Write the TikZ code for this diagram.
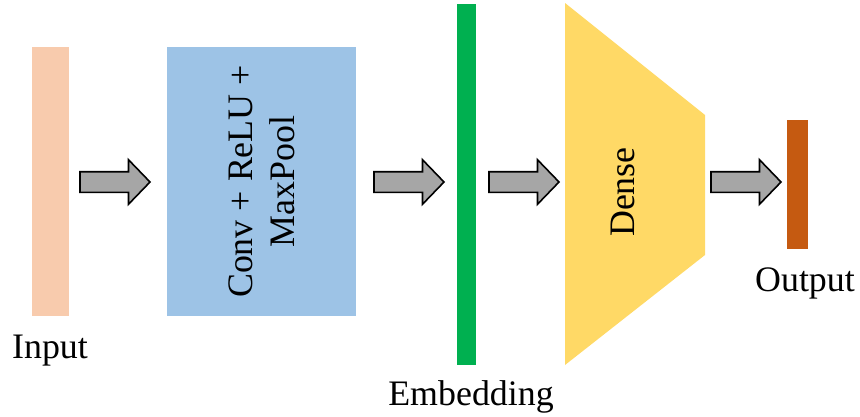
\documentclass[tikz,border=0pt]{standalone}
\usepackage{fontspec}
\setmainfont{Liberation Serif}
\usetikzlibrary{shapes.arrows}
\definecolor{inputc}{HTML}{F8CBAD}
\definecolor{convc}{HTML}{9DC3E6}
\definecolor{embc}{HTML}{00B050}
\definecolor{densec}{HTML}{FFD966}
\definecolor{outc}{HTML}{C55A11}
\definecolor{arrowgray}{HTML}{A6A6A6}
\begin{document}
\begin{tikzpicture}[x=1bp,y=-1bp,
  bar/.style={rectangle, draw=none, inner sep=0pt, outer sep=0pt},
  blockarrow/.style={single arrow, draw=black, fill=arrowgray, line width=1.6bp,
    minimum height=70bp, inner xsep=0pt, inner ysep=9.5bp, outer sep=0pt,
    single arrow head extend=12bp, single arrow tip angle=92, anchor=tail},
  lbl/.style={font=\fontsize{36}{42}\selectfont, inner sep=0pt, anchor=base},
  vtext/.style={font=\fontsize{36}{42}\selectfont, rotate=90, align=center, inner sep=0pt}]
  \useasboundingbox (0,0) rectangle (860,416);

  % layer blocks
  \node[bar, fill=inputc, minimum width=37bp, minimum height=269bp] (input) at (50.5,181.5) {};
  \node[bar, fill=convc, rotate=90, minimum width=269bp, minimum height=189bp,
        font=\fontsize{36}{42}\selectfont, align=center] (conv) at (261.5,181.5)
        {Conv + ReLU +\\MaxPool};
  \node[bar, fill=embc, minimum width=19bp, minimum height=361bp] (emb) at (466.5,184.5) {};
  \coordinate (d1) at (565,3);
  \coordinate (d2) at (705,115);
  \coordinate (d3) at (705,255);
  \coordinate (d4) at (565,365);
  \fill[densec] (d1) -- (d2) -- (d3) -- (d4) -- cycle;
  \node[vtext] (dense) at (623,192) {Dense};
  \node[bar, fill=outc, minimum width=21bp, minimum height=129bp] (out) at (797.5,184.5) {};

  % labels
  \node[lbl] (inputlbl) at (50,358) {Input};
  \node[lbl] (emblbl) at (471,405) {Embedding};
  \node[lbl] (outlbl) at (805,291) {Output};

  % block arrows between stages
  \node[blockarrow] (a1) at (80,182) {};
  \node[blockarrow] (a2) at (374,182) {};
  \node[blockarrow] (a3) at (489,182) {};
  \node[blockarrow] (a4) at (711,182) {};
\end{tikzpicture}
\end{document}
